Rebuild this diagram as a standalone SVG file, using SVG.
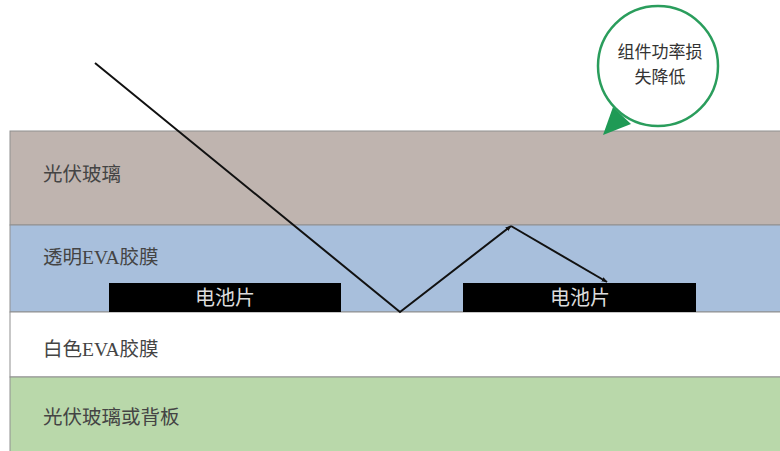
<svg xmlns="http://www.w3.org/2000/svg" width="780" height="451" viewBox="0 0 780 451">
<style>
.lbl{font-family:"Liberation Serif","Noto Sans CJK SC",serif;font-size:19.5px;fill:#444}
.cell{fill:#000}
.celltxt{font-family:"Noto Sans CJK SC",sans-serif;font-size:20px;fill:#dcdcdc;text-anchor:middle}
.btxt{font-family:"Noto Sans CJK SC",sans-serif;font-size:17px;fill:#333;text-anchor:middle}
.ray{stroke:#111;stroke-width:2;fill:none}
</style>
<defs>
<marker id="ah" viewBox="0 0 10 10" refX="9" refY="5" markerWidth="6" markerHeight="6" orient="auto" markerUnits="userSpaceOnUse">
<path d="M0,1 L10,5 L0,9 z" fill="#111"/>
</marker>
</defs>
<rect width="780" height="451" fill="#fff"/>
<g id="glass">
<rect x="10" y="131" width="775" height="94" fill="#bfb4af" stroke="#8f8f8f" stroke-width="1"/>
<text class="lbl" x="43" y="181">光伏玻璃</text>
</g>
<g id="eva-clear">
<rect x="10" y="225" width="775" height="87" fill="#a8bfdc" stroke="#8f8f8f" stroke-width="1"/>
<text class="lbl" x="43" y="264">透明EVA胶膜</text>
</g>
<g id="eva-white">
<rect x="10" y="312" width="775" height="65" fill="#fff" stroke="#8f8f8f" stroke-width="1"/>
<text class="lbl" x="43" y="356">白色EVA胶膜</text>
</g>
<g id="backsheet">
<rect x="10" y="377" width="775" height="80" fill="#b9d8aa" stroke="#8f8f8f" stroke-width="1"/>
<text class="lbl" x="43" y="424">光伏玻璃或背板</text>
</g>
<g id="cell-left">
<rect class="cell" x="109" y="283" width="232" height="29"/>
<text class="celltxt" x="225" y="305">电池片</text>
</g>
<g id="cell-right">
<rect class="cell" x="463" y="283" width="233" height="29"/>
<text class="celltxt" x="580" y="305">电池片</text>
</g>
<g id="bubble">
<circle cx="658" cy="66" r="60" fill="#fff" stroke="#2a9d5c" stroke-width="2.5"/>
<path d="M613,107 L631,124 L603,135 z" fill="#1f9a55"/>
<text class="btxt" x="660" y="58">组件功率损</text>
<text class="btxt" x="660" y="83">失降低</text>
</g>
<g id="connectors">
<polyline class="ray" points="95,63 400,312 511,226" marker-end="url(#ah)"/>
<line class="ray" x1="511" y1="226" x2="607" y2="282" marker-end="url(#ah)"/>
</g>
</svg>
